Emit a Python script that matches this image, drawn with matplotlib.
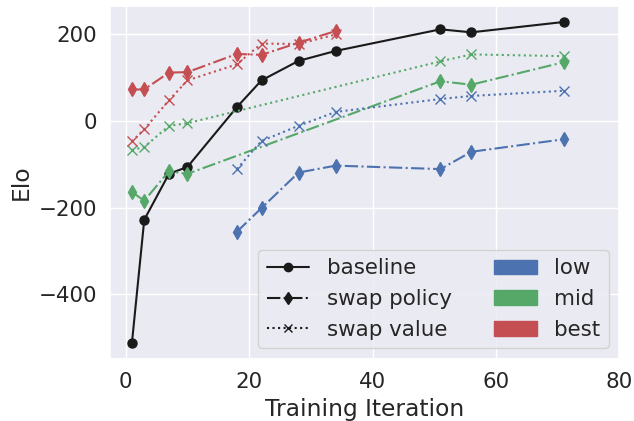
import matplotlib
matplotlib.use('Agg')
import matplotlib.pyplot as plt
import matplotlib.patches as mpatches
from matplotlib.lines import Line2D
import seaborn as sns

sns.set_theme(style='darkgrid', font_scale=1.4)

# baseline run
base_x = [1, 3, 7, 10, 18, 22, 28, 34, 51, 56, 71]
base_y = [-513, -228, -122, -106, 32, 94, 139, 162, 212, 205, 229]

# swap policy (diamonds, dash-dot)
best_pol_x = [1, 3, 7, 10, 18, 22, 28, 34]
best_pol_y = [73, 73, 112, 113, 155, 153, 181, 208]
mid_pol_x = [1, 3, 7, 10, 51, 56, 71]
mid_pol_y = [-164, -184, -116, -122, 92, 84, 136]
low_pol_x = [18, 22, 28, 34, 51, 56, 71]
low_pol_y = [-256, -201, -119, -103, -111, -71, -42]

# swap value (crosses, dotted)
best_val_x = [1, 3, 7, 10, 18, 22, 28, 34]
best_val_y = [-47, -19, 48, 94, 131, 179, 178, 200]
mid_val_x = [1, 3, 7, 10, 51, 56, 71]
mid_val_y = [-67, -60, -11, -5, 138, 154, 150]
low_val_x = [18, 22, 28, 34, 51, 56, 71]
low_val_y = [-111, -46, -11, 21, 51, 58, 70]

pal = sns.color_palette('deep')
c_low, c_mid, c_best = pal[0], pal[2], pal[3]

fig, ax = plt.subplots(figsize=(6.34, 4.21), dpi=100)

ax.plot(base_x, base_y, color='k', marker='o', linestyle='-', markersize=6.5)

ax.plot(low_pol_x, low_pol_y, color=c_low, marker='d', linestyle='-.', markersize=7.5)
ax.plot(mid_pol_x, mid_pol_y, color=c_mid, marker='d', linestyle='-.', markersize=7.5)
ax.plot(best_pol_x, best_pol_y, color=c_best, marker='d', linestyle='-.', markersize=7.5)

ax.plot(low_val_x, low_val_y, color=c_low, marker='x', linestyle=':', markersize=7)
ax.plot(mid_val_x, mid_val_y, color=c_mid, marker='x', linestyle=':', markersize=7)
ax.plot(best_val_x, best_val_y, color=c_best, marker='x', linestyle=':', markersize=7)

ax.set_xlim(-2.5, 80)
ax.set_xlabel('Training Iteration')
ax.set_ylabel('Elo')

handles = [
    Line2D([], [], color='k', marker='o', linestyle='-'),
    Line2D([], [], color='k', marker='d', linestyle='-.'),
    Line2D([], [], color='k', marker='x', linestyle=':'),
    mpatches.Patch(color=c_low),
    mpatches.Patch(color=c_mid),
    mpatches.Patch(color=c_best),
]
labels = ['baseline', 'swap policy', 'swap value', 'low', 'mid', 'best']
ax.legend(handles, labels, ncol=2, loc='lower right')

fig.subplots_adjust(left=0.174, right=0.977, top=0.986, bottom=0.147)
fig.savefig('out.png')
